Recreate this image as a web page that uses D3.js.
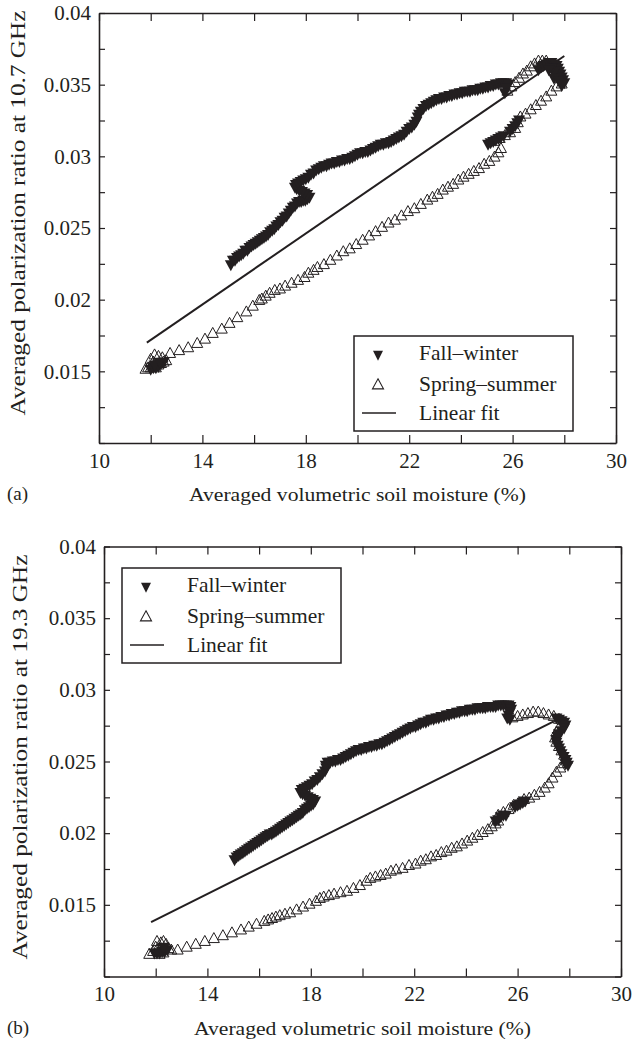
<!DOCTYPE html>
<html>
<head>
<meta charset="utf-8">
<script src="https://cdn.jsdelivr.net/npm/d3@7/dist/d3.min.js"></script>
<style>
body { margin: 0; background: #fff; }
svg text { font-family: "Liberation Serif", "Times New Roman", serif; fill: #231f20; }
</style>
</head>
<body>
<svg id="fig" width="632" height="1042"></svg>
<script>
// ---- data ----
const xTicks = [10, 12, 14, 16, 18, 20, 22, 24, 26, 28, 30];
const xLabels = [10, 14, 18, 22, 26, 30];
const yTicks = [0.01, 0.0125, 0.015, 0.0175, 0.02, 0.0225, 0.025, 0.0275, 0.03, 0.0325, 0.035, 0.0375, 0.04];
const yLabels = [0.015, 0.02, 0.025, 0.03, 0.035, 0.04];
const legendNames = ['Fall\u2013winter', 'Spring\u2013summer', 'Linear fit'];

// (a) 10.7 GHz
const fallA = [
  [15.1,0.0225],[15.18,0.0228],[15.26,0.0228],[15.34,0.0230],[15.42,0.0231],[15.5,0.0232],[15.58,0.0233],
  [15.66,0.0235],[15.74,0.0235],[15.82,0.0237],[15.9,0.0238],[15.98,0.0239],[16.06,0.0240],[16.14,0.0241],
  [16.22,0.0242],[16.3,0.0243],[16.38,0.0244],[16.46,0.0245],[16.54,0.0246],[16.62,0.0248],[16.7,0.0249],
  [16.78,0.0250],[16.86,0.0252],[16.94,0.0253],[17.02,0.0255],[17.1,0.0256],[17.18,0.0258],[17.26,0.0259],
  [17.34,0.0261],[17.42,0.0263],[17.5,0.0265],[17.58,0.0266],[17.66,0.0268],[17.74,0.0269],[17.82,0.0269],
  [17.9,0.0270],[17.98,0.0270],[18.06,0.0271],[18.14,0.0272],
  [18.05,0.0274],[17.95,0.0275],[17.85,0.0276],[17.75,0.0277],[17.65,0.0278],[17.58,0.0279],[17.62,0.0281],
  [17.7,0.0282],[17.8,0.0283],[17.9,0.0284],[18.0,0.0285],[18.1,0.0286],[18.2,0.0288],[18.3,0.0289],
  [18.4,0.0291],[18.5,0.0292],[18.6,0.0293],[18.7,0.0294],[18.8,0.0294],[18.9,0.0295],[19.0,0.0296],
  [19.1,0.0296],[19.2,0.0297],[19.3,0.0297],[19.4,0.0298],[19.5,0.0298],[19.6,0.0299],[19.7,0.0299],
  [19.8,0.0300],[19.9,0.0301],[20.0,0.0302],[20.1,0.0303],[20.2,0.0303],[20.3,0.0304],[20.4,0.0304],
  [20.5,0.0305],[20.6,0.0306],[20.7,0.0307],[20.8,0.0308],[20.9,0.0309],[21.0,0.0309],[21.1,0.0310],
  [21.2,0.0310],[21.3,0.0311],[21.4,0.0312],[21.5,0.0313],[21.6,0.0314],[21.7,0.0315],[21.8,0.0316],
  [21.9,0.0318],[22.0,0.0320],[22.1,0.0321],[22.2,0.0323],[22.28,0.0325],[22.33,0.0328],[22.38,0.0330],
  [22.45,0.0332],[22.55,0.0334],[22.65,0.0336],[22.75,0.0337],[22.85,0.0338],[22.95,0.0339],[23.05,0.0340],
  [23.15,0.0341],[23.25,0.0341],[23.35,0.0342],[23.45,0.0342],[23.55,0.0343],[23.65,0.0343],[23.75,0.0344],
  [23.85,0.0344],[23.95,0.0345],[24.05,0.0345],[24.15,0.0346],[24.25,0.0346],[24.35,0.0346],[24.45,0.0347],
  [24.55,0.0347],[24.65,0.0347],[24.75,0.0348],[24.85,0.0348],[24.95,0.0349],[25.05,0.0349],[25.15,0.0350],
  [25.25,0.0350],[25.35,0.0351],[25.45,0.0351],[25.55,0.0352],[25.65,0.0352],[25.75,0.0352],[25.85,0.0351],
  [25.75,0.0348],[25.7,0.0345],
  [27.0,0.0361],[27.1,0.0363],[27.2,0.0364],[27.3,0.0365],[27.4,0.0366],[27.5,0.0366],[27.6,0.0365],
  [27.7,0.0364],[27.75,0.0362],[27.8,0.0360],[27.85,0.0358],[27.9,0.0356],[27.95,0.0354],[28.0,0.0352],
  [27.9,0.0350],[27.7,0.0356],[27.6,0.0359],[27.5,0.0362],[27.4,0.0361],[27.6,0.0355],[27.8,0.0353],
  [25.05,0.0309],[25.15,0.0310],[25.25,0.0311],[25.35,0.0312],[25.45,0.0313],[25.55,0.0314],[25.65,0.0315],
  [25.9,0.0318],[26.0,0.0320],[26.1,0.0322],[26.18,0.0324],[26.25,0.0326],
  [12.0,0.0152],[12.1,0.0153],[12.2,0.0153],[12.3,0.0154],[12.4,0.0156],[12.5,0.0157],[12.15,0.0155],[12.35,0.0157]
];
const springA = [
  [11.8,0.0151],[11.9,0.0152],[12.0,0.0152],[12.1,0.0153],[12.2,0.0152],[12.3,0.0154],[12.4,0.0155],
  [12.5,0.0156],[12.6,0.0157],[12.1,0.0156],[12.0,0.0158],[12.15,0.0161],[12.3,0.0160],[12.45,0.0159],
  [12.75,0.0162],[13.1,0.0164],[13.45,0.0166],[13.8,0.0169],[14.1,0.0172],[14.4,0.0176],[14.75,0.0179],
  [15.05,0.0183],[15.35,0.0187],[15.7,0.0191],[15.95,0.0195],[16.2,0.0199],[16.3,0.0200],[16.45,0.0202],
  [16.6,0.0204],[16.8,0.0206],[17.0,0.0207],[17.2,0.0209],[17.45,0.0211],[17.7,0.0213],[17.95,0.0215],
  [18.1,0.0218],[18.3,0.0220],[18.45,0.0222],[18.7,0.0224],[18.95,0.0227],[19.2,0.0230],[19.45,0.0233],
  [19.7,0.0235],[19.95,0.0238],[20.2,0.0241],[20.45,0.0244],[20.7,0.0247],[20.95,0.0250],[21.2,0.0253],
  [21.45,0.0255],[21.7,0.0258],[21.95,0.0261],[22.2,0.0263],[22.45,0.0266],[22.7,0.0269],[22.9,0.0271],
  [23.1,0.0273],[23.3,0.0276],[23.5,0.0278],[23.7,0.0280],[23.9,0.0283],[24.1,0.0285],[24.3,0.0287],
  [24.5,0.0289],[24.7,0.0291],[24.9,0.0294],[25.1,0.0296],[25.3,0.0299],[25.45,0.0302],[25.55,0.0305],
  [25.3,0.0310],[25.5,0.0312],[25.7,0.0314],[25.9,0.0316],[26.1,0.0319],[26.2,0.0323],[26.3,0.0327],
  [26.5,0.0329],[26.7,0.0332],[26.9,0.0335],[27.1,0.0338],[27.3,0.0341],[27.5,0.0345],[27.7,0.0348],
  [27.9,0.0350],[25.8,0.0345],[25.95,0.0348],[26.1,0.0351],[26.25,0.0354],[26.4,0.0357],[26.55,0.0359],
  [26.7,0.0362],[26.85,0.0364],[27.0,0.0366],[27.15,0.0366],[27.3,0.0366]
];
const fitXA = [11.85, 28.0];
const fitYA = [0.0170, 0.0370];

// (b) 19.3 GHz
const fallB = [
  [15.05,0.0182],[15.13,0.0184],[15.21,0.0185],[15.29,0.0186],[15.37,0.0187],[15.45,0.0188],[15.53,0.0189],
  [15.61,0.0190],[15.69,0.0191],[15.77,0.0192],[15.85,0.0193],[15.93,0.0194],[16.01,0.0195],[16.09,0.0196],
  [16.17,0.0197],[16.25,0.0198],[16.33,0.0199],[16.41,0.0200],[16.49,0.0200],[16.57,0.0201],[16.65,0.0202],
  [16.73,0.0203],[16.81,0.0204],[16.89,0.0205],[16.97,0.0206],[17.05,0.0207],[17.13,0.0208],[17.21,0.0209],
  [17.29,0.0210],[17.37,0.0211],[17.45,0.0212],[17.53,0.0213],[17.61,0.0214],[17.69,0.0215],[17.77,0.0217],
  [17.85,0.0218],[17.93,0.0219],[18.01,0.0220],[18.09,0.0221],[18.17,0.0223],
  [18.08,0.0224],[17.98,0.0225],[17.88,0.0226],[17.78,0.0227],[17.68,0.0228],[17.6,0.0229],[17.65,0.0231],
  [17.75,0.0232],[17.85,0.0233],[17.95,0.0234],[18.05,0.0235],[18.15,0.0237],[18.25,0.0238],[18.35,0.0240],
  [18.45,0.0242],[18.55,0.0244],[18.6,0.0246],[18.58,0.0248],[18.65,0.0250],[18.75,0.0250],[18.85,0.0251],
  [18.95,0.0251],[19.05,0.0252],[19.15,0.0252],[19.25,0.0253],[19.35,0.0254],[19.45,0.0255],[19.55,0.0256],
  [19.65,0.0257],[19.75,0.0258],[19.85,0.0259],[19.95,0.0259],[20.05,0.0260],[20.15,0.0260],[20.25,0.0261],
  [20.35,0.0261],[20.45,0.0262],[20.55,0.0262],[20.65,0.0263],[20.75,0.0263],[20.85,0.0264],[20.95,0.0265],
  [21.05,0.0266],[21.15,0.0267],[21.25,0.0268],[21.35,0.0269],[21.45,0.0270],[21.55,0.0271],[21.65,0.0272],
  [21.75,0.0273],[21.85,0.0274],[21.95,0.0275],[22.05,0.0275],[22.15,0.0276],[22.25,0.0277],[22.35,0.0278],
  [22.45,0.0278],[22.55,0.0279],[22.65,0.0280],[22.75,0.0280],[22.85,0.0281],[22.95,0.0281],[23.05,0.0282],
  [23.15,0.0282],[23.25,0.0283],[23.35,0.0283],[23.45,0.0284],[23.55,0.0284],[23.65,0.0285],[23.75,0.0285],
  [23.85,0.0286],[23.95,0.0286],[24.05,0.0286],[24.15,0.0287],[24.25,0.0287],[24.35,0.0287],[24.45,0.0288],
  [24.55,0.0288],[24.65,0.0288],[24.75,0.0288],[24.85,0.0289],[24.95,0.0289],[25.05,0.0289],[25.15,0.0289],
  [25.25,0.0290],[25.35,0.0290],[25.45,0.0290],[25.55,0.0290],[25.65,0.0290],[25.72,0.0289],[25.75,0.0287],
  [25.7,0.0285],[25.65,0.0283],[25.6,0.0281],[25.7,0.0280],
  [27.5,0.0281],[27.6,0.0280],[27.7,0.0279],[27.8,0.0278],[27.85,0.0276],[27.8,0.0274],[27.7,0.0272],
  [27.6,0.0270],[27.55,0.0268],[27.5,0.0266],[27.5,0.0264],[27.55,0.0262],[27.6,0.0260],[27.65,0.0258],
  [27.7,0.0256],[27.78,0.0254],[27.85,0.0252],[27.9,0.0250],[27.95,0.0248],[27.85,0.0249],
  [25.15,0.0209],[25.25,0.0210],[25.35,0.0212],[25.45,0.0213],[25.55,0.0213],[25.9,0.0219],[26.0,0.0220],
  [26.1,0.0221],[26.2,0.0222],[26.3,0.0223],
  [11.95,0.0117],[12.05,0.0117],[12.15,0.0117],[12.25,0.0118],[12.35,0.0118],[12.45,0.0119],[12.3,0.0121]
];
const springB = [
  [11.75,0.0115],[11.9,0.0117],[12.0,0.0120],[12.05,0.0124],[12.2,0.0123],[12.3,0.0124],[12.4,0.0122],
  [12.5,0.0119],[12.6,0.0118],[12.15,0.0115],[12.3,0.0116],[12.85,0.0118],[13.2,0.0120],[13.55,0.0122],
  [13.9,0.0124],[14.25,0.0126],[14.6,0.0128],[14.95,0.0130],[15.3,0.0132],[15.6,0.0134],[15.9,0.0136],
  [16.2,0.0138],[16.35,0.0139],[16.5,0.0140],[16.65,0.0141],[16.8,0.0142],[17.0,0.0143],[17.2,0.0144],
  [17.45,0.0146],[17.7,0.0148],[17.95,0.0150],[18.2,0.0152],[18.35,0.0154],[18.5,0.0155],[18.7,0.0156],
  [18.9,0.0157],[19.15,0.0158],[19.4,0.0159],[19.65,0.0161],[19.9,0.0163],[20.15,0.0166],[20.3,0.0168],
  [20.5,0.0169],[20.7,0.0170],[20.9,0.0171],[21.1,0.0173],[21.3,0.0174],[21.55,0.0175],[21.8,0.0177],
  [22.05,0.0178],[22.25,0.0180],[22.45,0.0181],[22.65,0.0183],[22.85,0.0184],[23.05,0.0186],[23.25,0.0187],
  [23.45,0.0189],[23.65,0.0190],[23.85,0.0192],[24.05,0.0194],[24.25,0.0196],[24.45,0.0198],[24.65,0.0200],
  [24.85,0.0202],[25.0,0.0204],[25.15,0.0206],[25.25,0.0208],[25.25,0.0212],[25.45,0.0214],[25.65,0.0216],
  [25.85,0.0219],[26.05,0.0221],[26.25,0.0223],[26.45,0.0224],[26.65,0.0226],[26.85,0.0228],[27.05,0.0231],
  [27.2,0.0234],[27.35,0.0238],[27.5,0.0242],[27.65,0.0245],[27.8,0.0248],[27.9,0.0251],[27.8,0.0254],
  [27.7,0.0257],[27.6,0.0260],[27.5,0.0263],[27.45,0.0266],[27.5,0.0270],[27.6,0.0273],
  [25.8,0.0280],[26.0,0.0281],[26.2,0.0282],[26.4,0.0283],[26.6,0.0284],[26.8,0.0284],[27.0,0.0283],
  [27.2,0.0282],[27.4,0.0281],[27.6,0.0279]
];
const fitXB = [11.82, 27.4];
const fitYB = [0.0138, 0.0278];

// ---- drawing ----
const svg = d3.select('#fig');
const ink = '#231f20';

function triUp(w, h) {
	return 'M0,' + (-2*h/3) + 'L' + (w/2) + ',' + (h/3) + 'L' + (-w/2) + ',' + (h/3) + 'Z';
}
function triDown(w, h) {
	return 'M0,' + (2*h/3) + 'L' + (w/2) + ',' + (-h/3) + 'L' + (-w/2) + ',' + (-h/3) + 'Z';
}

function draw_panel(p) {
	const sx = d3.scaleLinear().domain([10, 30]).range([p.left, p.right]);
	const sy = d3.scaleLinear().domain([0.01, 0.04]).range([p.bottom, p.top]);
	const g = svg.append('g');

	const xfmt = d => xLabels.includes(d) ? d : '';
	const yfmt = d => yLabels.some(v => Math.abs(v - d) < 1e-9) ? String(+d.toFixed(4)) : '';

	const axes = [
		[d3.axisBottom(sx).tickValues(xTicks).tickFormat(xfmt).tickSizeInner(-8).tickSizeOuter(0).tickPadding(10), 'translate(0,' + p.bottom + ')'],
		[d3.axisTop(sx).tickValues(xTicks).tickFormat('').tickSizeInner(-8).tickSizeOuter(0), 'translate(0,' + p.top + ')'],
		[d3.axisLeft(sy).tickValues(yTicks).tickFormat(yfmt).tickSizeInner(-6).tickSizeOuter(0).tickPadding(8), 'translate(' + p.left + ',0)'],
		[d3.axisRight(sy).tickValues(yTicks).tickFormat('').tickSizeInner(-6).tickSizeOuter(0), 'translate(' + p.right + ',0)']
	];
	for (const [ax, tr] of axes) {
		const a = g.append('g').attr('transform', tr).call(ax);
		a.attr('font-size', null).attr('font-family', null);
		a.select('.domain').attr('stroke', ink).attr('stroke-width', 1.6);
		a.selectAll('.tick line').attr('stroke', ink).attr('stroke-width', 1.2);
		a.selectAll('.tick text').style('font-size', '21px').attr('fill', ink);
	}

	// fit line
	g.append('path')
		.datum(d3.zip(p.fitX, p.fitY))
		.attr('d', d3.line().x(d => sx(d[0])).y(d => sy(d[1])))
		.attr('stroke', ink).attr('stroke-width', 2).attr('fill', 'none');

	// spring-summer open triangles
	g.append('g').selectAll('path')
		.data(p.spring)
		.join('path')
		.attr('d', triUp(11, 10))
		.attr('transform', d => 'translate(' + sx(d[0]) + ',' + sy(d[1]) + ')')
		.attr('fill', 'none').attr('stroke', ink).attr('stroke-width', 1);

	// fall-winter filled triangles
	g.append('g').selectAll('path')
		.data(p.fall)
		.join('path')
		.attr('d', triDown(12, 11))
		.attr('transform', d => 'translate(' + sx(d[0]) + ',' + sy(d[1]) + ')')
		.attr('fill', ink);

	// axis titles
	g.append('text')
		.attr('x', (p.left + p.right) / 2)
		.attr('y', p.bottom + 58)
		.attr('text-anchor', 'middle')
		.attr('textLength', 337).attr('lengthAdjust', 'spacingAndGlyphs')
		.style('font-size', '19px')
		.text('Averaged volumetric soil moisture (%)');
	g.append('text')
		.attr('transform', 'translate(' + p.ytx + ',' + p.yty + ') rotate(-90)')
		.attr('text-anchor', 'middle')
		.attr('textLength', 405).attr('lengthAdjust', 'spacingAndGlyphs')
		.style('font-size', '20px')
		.text(p.ytitle);
	g.append('text')
		.attr('x', 7).attr('y', p.bottom + 57)
		.style('font-size', '19px')
		.text(p.tag);

	// legend
	const L = g.append('g').attr('transform', 'translate(' + p.lx + ',' + p.ly + ')');
	L.append('rect').attr('width', 219).attr('height', 95)
		.attr('fill', '#fff').attr('stroke', ink).attr('stroke-width', 1.5);
	const rows = [24, 54.5, 84];
	L.append('path').attr('d', triDown(10, 10))
		.attr('transform', 'translate(24,' + (rows[0] - 6) + ')').attr('fill', ink);
	L.append('path').attr('d', triUp(11, 10))
		.attr('transform', 'translate(24,' + (rows[1] - 5) + ')')
		.attr('fill', 'none').attr('stroke', ink).attr('stroke-width', 1.1);
	L.append('line').attr('x1', 8).attr('x2', 42)
		.attr('y1', rows[2] - 7).attr('y2', rows[2] - 7)
		.attr('stroke', ink).attr('stroke-width', 1.5);
	L.selectAll('text.lab')
		.data(legendNames)
		.join('text')
		.attr('class', 'lab')
		.attr('x', 65)
		.attr('y', (d, i) => rows[i])
		.style('font-size', '21.5px')
		.text(d => d);
}

draw_panel({
	left: 99, right: 616, top: 13, bottom: 443,
	fall: fallA, spring: springA, fitX: fitXA, fitY: fitYA,
	ytitle: 'Averaged polarization ratio at 10.7 GHz', ytx: 25, yty: 213,
	tag: '(a)', lx: 354, ly: 336
});
draw_panel({
	left: 104, right: 621, top: 546.5, bottom: 976.5,
	fall: fallB, spring: springB, fitX: fitXB, fitY: fitYB,
	ytitle: 'Averaged polarization ratio at 19.3 GHz', ytx: 27, yty: 757,
	tag: '(b)', lx: 122, ly: 568
});
</script>
</body>
</html>
